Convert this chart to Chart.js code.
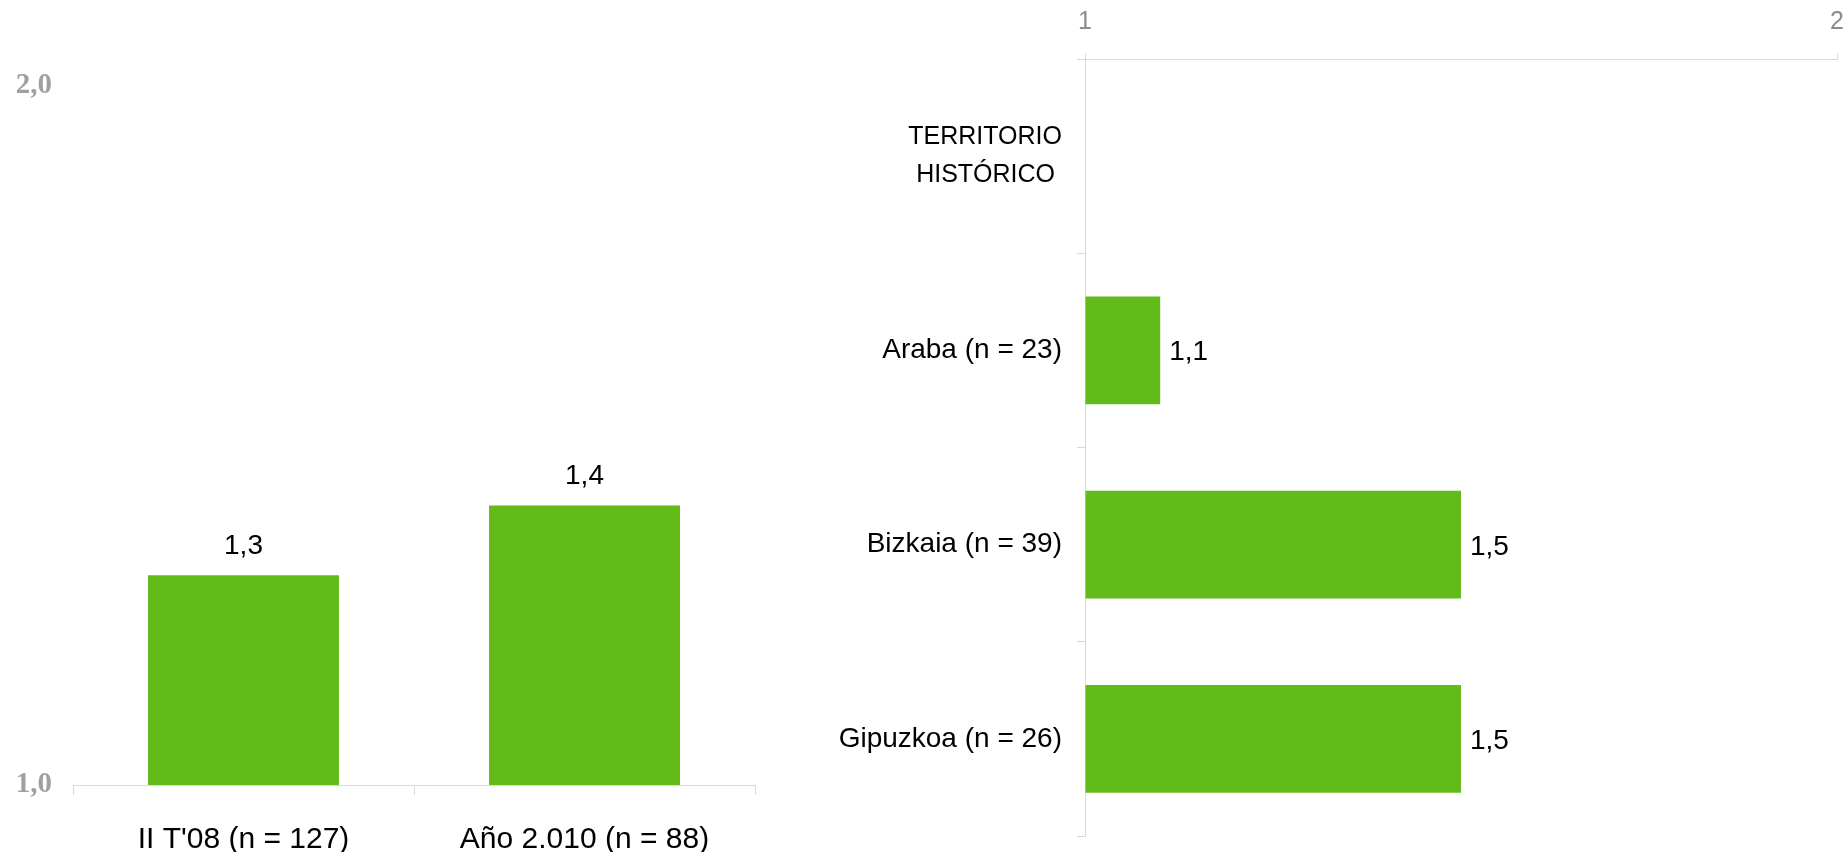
<!DOCTYPE html>
<html>
<head>
<meta charset="utf-8">
<script src="https://cdn.jsdelivr.net/npm/chart.js@4.4.0/dist/chart.umd.min.js"></script>
<style>
    html, body { margin: 0; padding: 0; background: #ffffff; }
    body { width: 1845px; height: 852px; position: relative; overflow: hidden; }
    #leftChart { position: absolute; left: 0; top: 0; }
    #rightChart { position: absolute; left: 800px; top: 0; }
</style>
</head>
<body>
<canvas id="leftChart" width="780" height="852"></canvas>
<canvas id="rightChart" width="1045" height="852"></canvas>
<script>
// evolution (left chart)
const periodLabels = ["II T'08 (n = 127)", 'Año 2.010 (n = 88)'];
const periodValues = [1.3, 1.4];

// by territory (right chart)
const territoryLabels = [['TERRITORIO', 'HISTÓRICO '], 'Araba (n = 23)', 'Bizkaia (n = 39)', 'Gipuzkoa (n = 26)'];
const territoryValues = [null, 1.1, 1.5, 1.5];

const scaleMin = 1;
const scaleMax = 2;

const barGreen = '#63bb1a';
const axisGrey = '#d9d9d9';
const tickGrey = '#a0a0a0';

const fmt = v => v.toFixed(1).replace('.', ',');

// Draw value labels next to / above bars
const valueLabels = {
    id: 'valueLabels',
    afterDatasetsDraw(chart) {
        const ctx = chart.ctx;
        const horizontal = chart.options.indexAxis === 'y';
        const meta = chart.getDatasetMeta(0);
        const values = chart.data.datasets[0].data;
        ctx.save();
        ctx.fillStyle = '#000000';
        ctx.font = '28px "Liberation Sans", Arial, sans-serif';
        ctx.textBaseline = 'alphabetic';
        meta.data.forEach((bar, i) => {
            if (values[i] === null) return;
            if (horizontal) {
                ctx.textAlign = 'left';
                ctx.fillText(fmt(values[i]), bar.x + 9, bar.y + 10);
            } else {
                ctx.textAlign = 'center';
                ctx.fillText(fmt(values[i]), bar.x, bar.y - 21);
            }
        });
        ctx.restore();
    }
};

new Chart(document.getElementById('leftChart'), {
    type: 'bar',
    data: {
        labels: periodLabels,
        datasets: [{
            data: periodValues,
            backgroundColor: barGreen,
            base: scaleMin,
            categoryPercentage: 1,
            barPercentage: 0.56
        }]
    },
    options: {
        responsive: false,
        animation: false,
        layout: { padding: { top: 86, right: 25, bottom: 0, left: 0 } },
        plugins: { legend: { display: false }, tooltip: { enabled: false } },
        scales: {
            x: {
                grid: { offset: true, drawOnChartArea: false, drawTicks: true, tickLength: 10, color: axisGrey },
                border: { display: true, color: axisGrey },
                ticks: {
                    color: '#000000',
                    padding: 27,
                    font: { family: '"Liberation Sans", Arial, sans-serif', size: 30 }
                },
                afterFit(scale) { scale.height = 67; }
            },
            y: {
                min: scaleMin,
                max: scaleMax,
                grid: { display: false, drawTicks: false },
                border: { display: false },
                ticks: {
                    stepSize: 1,
                    padding: 21,
                    color: tickGrey,
                    font: { family: '"Liberation Serif", serif', size: 29, weight: 'bold' },
                    callback: v => fmt(v)
                },
                afterFit(scale) { scale.width = 73; }
            }
        }
    },
    plugins: [valueLabels]
});

new Chart(document.getElementById('rightChart'), {
    type: 'bar',
    data: {
        labels: territoryLabels,
        datasets: [{
            data: territoryValues,
            backgroundColor: barGreen,
            base: scaleMin,
            categoryPercentage: 1,
            barPercentage: 0.555
        }]
    },
    options: {
        indexAxis: 'y',
        responsive: false,
        animation: false,
        layout: { padding: { top: 0, right: 8, bottom: 16, left: 0 } },
        plugins: { legend: { display: false }, tooltip: { enabled: false } },
        scales: {
            x: {
                position: 'top',
                min: scaleMin,
                max: scaleMax,
                grid: { drawOnChartArea: false, drawTicks: true, tickLength: 6, color: axisGrey },
                border: { display: true, color: axisGrey },
                ticks: {
                    stepSize: 1,
                    padding: 16,
                    color: '#8c8c8c',
                    font: { family: '"Liberation Sans", Arial, sans-serif', size: 25 }
                },
                afterFit(scale) {
                    scale.height = 59;
                    scale.paddingLeft = 0;
                    scale.paddingRight = 0;
                }
            },
            y: {
                grid: { offset: true, drawOnChartArea: false, drawTicks: true, tickLength: 8, color: axisGrey },
                border: { display: true, color: axisGrey },
                ticks: {
                    padding: 15,
                    color: '#000000',
                    font: ctx => ctx.index === 0
                        ? { family: '"Liberation Sans", Arial, sans-serif', size: 25, lineHeight: 1.5 }
                        : { family: '"Liberation Sans", Arial, sans-serif', size: 28 }
                },
                afterFit(scale) {
                    scale.width = 285;
                    scale.paddingTop = 0;
                    scale.paddingBottom = 0;
                }
            }
        }
    },
    plugins: [valueLabels]
});
</script>
</body>
</html>
